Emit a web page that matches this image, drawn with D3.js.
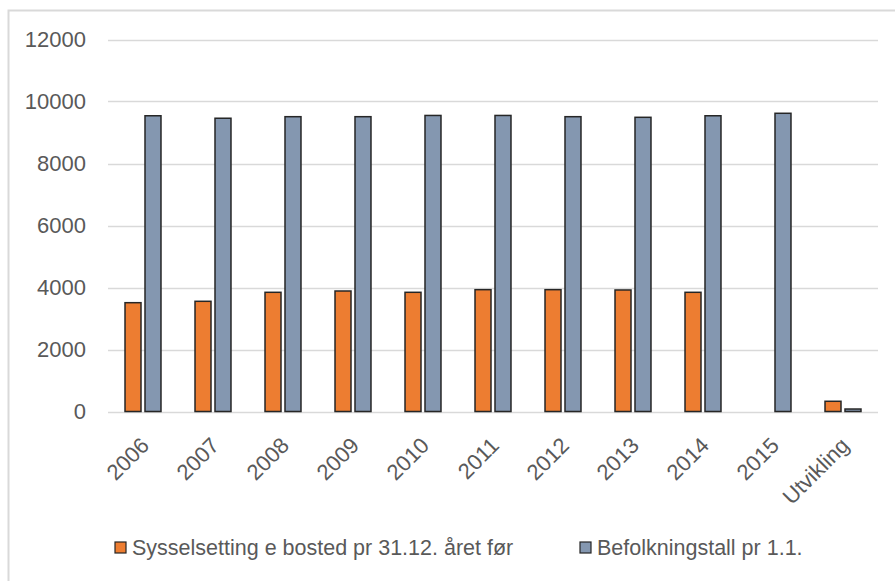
<!DOCTYPE html>
<html>
<head>
<meta charset="utf-8">
<script src="https://cdn.jsdelivr.net/npm/d3@7/dist/d3.min.js"></script>
<style>
  html, body { margin: 0; padding: 0; background: #ffffff; }
  svg { display: block; font-family: "Liberation Sans", Arial, sans-serif; }
</style>
</head>
<body>
<svg id="chart" width="895" height="581"></svg>
<script>
// Categories along the x axis
const categories = ["2006", "2007", "2008", "2009", "2010", "2011", "2012", "2013", "2014", "2015", "Utvikling"];

// Series names (legend)
const seriesNames = ["Sysselsetting e bosted pr 31.12. året før", "Befolkningstall pr 1.1."];

// Employment by place of residence (no value for 2015)
const sysselsetting = [3510, 3555, 3845, 3887, 3845, 3930, 3930, 3920, 3845, null, 330];

// Population at 1 January
const befolkning = [9540, 9460, 9510, 9510, 9550, 9550, 9510, 9490, 9540, 9620, 80];

// Y axis ticks
const yTicks = [0, 2000, 4000, 6000, 8000, 10000, 12000];

const colors = ["#ED7D31", "#8497B0"];

const svg = d3.select("#chart");

// Outer chart frame
svg.append("rect")
  .attr("x", 8.5).attr("y", 10.5)
  .attr("width", 900).attr("height", 600)
  .attr("fill", "#ffffff")
  .attr("stroke", "#d9d9d9")
  .attr("stroke-width", 2);

const plot = { left: 108, right: 878, top: 39.5, bottom: 411.5 };

const y = d3.scaleLinear().domain([0, 12000]).range([plot.bottom, plot.top]);

const x0 = d3.scaleBand()
  .domain(categories)
  .range([plot.left, plot.right])
  .paddingInner(0.486)
  .paddingOuter(0.243);

const x1 = d3.scaleBand()
  .domain([0, 1])
  .range([0, x0.bandwidth()])
  .paddingInner(0.2);

// Gridlines
svg.append("g")
  .selectAll("line")
  .data(yTicks)
  .join("line")
  .attr("x1", plot.left).attr("x2", plot.right)
  .attr("y1", d => Math.round(y(d)) + 0.5)
  .attr("y2", d => Math.round(y(d)) + 0.5)
  .attr("stroke", "#d9d9d9")
  .attr("stroke-width", 1.5);

// Y axis labels
const yAxis = d3.axisLeft(y).tickValues(yTicks).tickFormat(d3.format("d")).tickSize(0).tickPadding(0);
const yG = svg.append("g")
  .attr("transform", `translate(86,0)`)
  .call(yAxis);
yG.select(".domain").remove();
yG.selectAll("text")
  .attr("font-size", 22)
  .attr("fill", "#595959")
  .attr("font-family", "'Liberation Sans', Arial, sans-serif");

// Bars
const rows = categories.map((c, i) => ({ cat: c, vals: [sysselsetting[i], befolkning[i]] }));

const groups = svg.append("g")
  .selectAll("g")
  .data(rows)
  .join("g")
  .attr("transform", d => `translate(${x0(d.cat)},0)`);

groups.selectAll("rect")
  .data(d => d.vals.map((v, k) => ({ k, v })).filter(e => e.v != null))
  .join("rect")
  .attr("x", d => x1(d.k))
  .attr("width", x1.bandwidth())
  .attr("y", d => y(d.v))
  .attr("height", d => y(0) - y(d.v))
  .attr("fill", d => colors[d.k])
  .attr("stroke", "#262626")
  .attr("stroke-width", 1.5);

// X axis labels, rotated
const xAxis = d3.axisBottom(x0).tickSize(0).tickPadding(0);
const xG = svg.append("g")
  .attr("transform", `translate(0,${plot.bottom})`)
  .call(xAxis);
xG.select(".domain").remove();
xG.selectAll("text")
  .attr("font-size", 22)
  .attr("fill", "#595959")
  .attr("font-family", "'Liberation Sans', Arial, sans-serif")
  .attr("text-anchor", "end")
  .attr("y", 0)
  .attr("dy", "0.35em")
  .attr("transform", "translate(2,30) rotate(-45)");

// Legend
const legendX = [115, 580];
const legend = svg.append("g")
  .selectAll("g")
  .data(seriesNames)
  .join("g")
  .attr("transform", (d, i) => `translate(${legendX[i]},542)`);

legend.append("rect")
  .attr("width", 11).attr("height", 11)
  .attr("fill", (d, i) => colors[i])
  .attr("stroke", "#262626")
  .attr("stroke-width", 1.2);

legend.append("text")
  .attr("x", 17)
  .attr("y", 13)
  .attr("font-size", 21.5)
  .attr("fill", "#595959")
  .text(d => d);
</script>
</body>
</html>
